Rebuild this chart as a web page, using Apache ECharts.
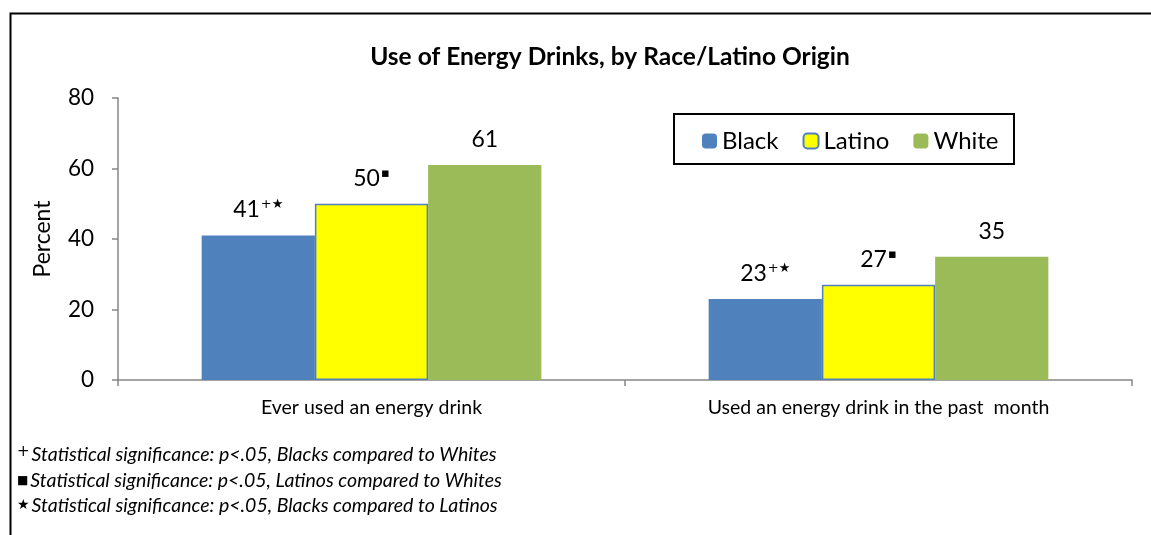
<!DOCTYPE html>
<html>
<head>
<meta charset="utf-8">
<script src="https://cdn.jsdelivr.net/npm/echarts@6/dist/echarts.min.js"></script>
<style>
  html, body { margin: 0; padding: 0; background: #fff; }
  #main { width: 1151px; height: 535px; }
</style>
</head>
<body>
<div id="main"></div>
<script>
var FONT = 'Lato, "Open Sans", sans-serif';

var categories = ['Ever used an energy drink', 'Used an energy drink in the past  month'];
var black = [41, 23];
var latino = [50, 27];
var white = [61, 35];
// significance marks shown next to the value labels
var blackMarks = ['+\u2605', '+\u2605'];
var latinoMarks = ['\u25aa', '\u25aa'];
var whiteMarks = ['', ''];
var yTicks = [0, 20, 40, 60, 80];
var footnotes = [
  ['+', 'Statistical significance: p<.05, Blacks compared to Whites'],
  ['\u25a0', 'Statistical significance: p<.05, Latinos compared to Whites'],
  ['\u2605', 'Statistical significance: p<.05, Blacks compared to Latinos']
];
var markSizes = [15, 12, 14];
var markPads = [0, 4, 2];

var chart = echarts.init(document.getElementById('main'), null, { renderer: 'canvas' });

function labelFor(marks) {
  return {
    show: true,
    position: 'top',
    distance: 14,
    formatter: function (p) {
      var m = marks[p.dataIndex];
      return '{v|' + p.value + '}' + (m ? '{s|' + m + '}' : '');
    },
    rich: {
      v: { fontFamily: FONT, fontSize: 23, color: '#000' },
      s: { fontFamily: 'DejaVu Sans', fontSize: 13, color: '#000', verticalAlign: 'top', padding: [0, 0, 10, 1] }
    }
  };
}

var graphics = [
  { type: 'rect', left: 8, top: 11, shape: { width: 1200, height: 600 }, style: { fill: 'none', stroke: '#000', lineWidth: 2 }, z: 0 },
  { type: 'rect', left: 673, top: 113, shape: { width: 340, height: 50 }, style: { fill: '#fff', stroke: '#000', lineWidth: 2 }, z: 1 }
];
footnotes.forEach(function (f, i) {
  graphics.push({
    type: 'text', left: 17, top: 445 + i * 25.5,
    style: {
      text: '{m|' + f[0] + '}{t|' + f[1] + '}',
      rich: {
        m: { fontFamily: 'DejaVu Sans', fontSize: markSizes[i], color: '#000', verticalAlign: 'top', padding: [markPads[i], 2, 0, 0] },
        t: { fontFamily: FONT, fontStyle: 'italic', fontSize: 19.5, color: '#000' }
      }
    }
  });
});

chart.setOption({
  backgroundColor: '#fff',
  animation: false,
  title: {
    text: 'Use of Energy Drinks, by Race/Latino Origin',
    left: 605, top: 40, textAlign: 'center',
    textStyle: { fontFamily: FONT, fontWeight: 'bold', fontSize: 24.5, color: '#000' }
  },
  legend: {
    left: 697, top: 124,
    itemWidth: 15, itemHeight: 15, itemGap: 24,
    textStyle: { fontFamily: FONT, fontSize: 24, color: '#000', padding: [0, 0, 0, 0] },
    data: ['Black', 'Latino', 'White'],
    z: 5
  },
  grid: { left: 118, right: 19, top: 98, bottom: 155 },
  xAxis: {
    type: 'category',
    data: categories,
    axisLine: { lineStyle: { color: '#868686', width: 1.5 } },
    axisTick: { show: true, length: 6, lineStyle: { color: '#868686', width: 1.5 } },
    axisLabel: { fontFamily: FONT, fontSize: 19.5, color: '#000', margin: 18 }
  },
  yAxis: {
    type: 'value',
    min: yTicks[0], max: yTicks[yTicks.length - 1], interval: 20,
    name: 'Percent', nameLocation: 'middle', nameGap: 64, nameRotate: 90,
    nameTextStyle: { fontFamily: FONT, fontSize: 23, color: '#000' },
    axisLine: { show: true, lineStyle: { color: '#868686', width: 1.5 } },
    axisTick: { show: true, length: 6, lineStyle: { color: '#868686', width: 1.5 } },
    axisLabel: { fontFamily: FONT, fontSize: 22.5, color: '#000', margin: 24 },
    splitLine: { show: false }
  },
  graphic: graphics,
  series: [
    { name: 'Black', type: 'bar', data: black, barGap: '0%', barCategoryGap: '33%',
      itemStyle: { color: '#4F81BD' }, label: labelFor(blackMarks) },
    { name: 'Latino', type: 'bar', data: latino,
      itemStyle: { color: '#FFFF00', borderColor: '#4F81BD', borderWidth: 1.5 }, label: labelFor(latinoMarks) },
    { name: 'White', type: 'bar', data: white,
      itemStyle: { color: '#9BBB59' }, label: labelFor(whiteMarks) }
  ]
});
</script>
</body>
</html>
